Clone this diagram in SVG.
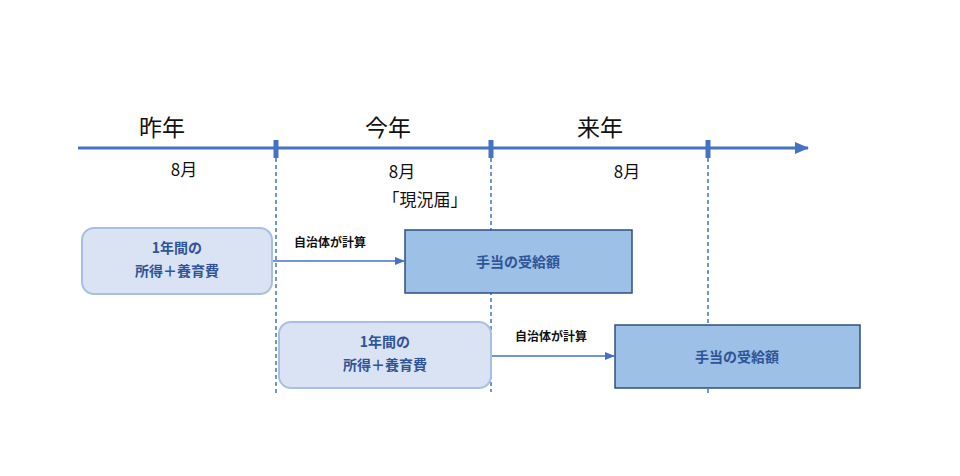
<svg xmlns="http://www.w3.org/2000/svg" width="960" height="476" viewBox="0 0 960 476">
<style>
.yr{font-family:"Noto Sans CJK JP","Noto Sans",sans-serif;font-size:23px;fill:#111;text-anchor:middle}
.mo{font-family:"Noto Sans CJK JP","Noto Sans",sans-serif;font-size:17px;fill:#111;text-anchor:middle}
.bt{font-family:"Noto Sans CJK JP","Noto Sans",sans-serif;font-size:14px;font-weight:bold;fill:#2f5597;text-anchor:middle}
.lb{font-family:"Noto Sans CJK JP","Noto Sans",sans-serif;font-size:12px;font-weight:bold;fill:#111;text-anchor:middle}
.dash{stroke:#4472c4;stroke-width:1.5;stroke-dasharray:4 3;fill:none}
.tick{stroke:#4472c4;stroke-width:5}
.soft{fill:#dae3f3;stroke:#a9bfe2;stroke-width:2}
.hard{fill:#9dc0e6;stroke:#2f4f7f;stroke-width:1.5}
.conn{stroke:#4472c4;stroke-width:1.5;fill:none}
</style>
<defs>
<marker id="ah" markerWidth="10" markerHeight="8" refX="9" refY="4" orient="auto" markerUnits="userSpaceOnUse">
<path d="M0,0 L10,4 L0,8 Z" fill="#4472c4"/>
</marker>
<marker id="bigah" markerWidth="14" markerHeight="12" refX="13" refY="6" orient="auto" markerUnits="userSpaceOnUse">
<path d="M0,0 L14,6 L0,12 Z" fill="#4472c4"/>
</marker>
</defs>
<g id="timeline">
<line x1="78" y1="148" x2="808" y2="148" stroke="#4472c4" stroke-width="3" marker-end="url(#bigah)"/>
<line class="tick" x1="276" y1="140" x2="276" y2="158"/>
<line class="tick" x1="491" y1="140" x2="491" y2="158"/>
<line class="tick" x1="708" y1="140" x2="708" y2="158"/>
<line class="dash" x1="276" y1="158" x2="276" y2="396"/>
<line class="dash" x1="491" y1="158" x2="491" y2="392"/>
<line class="dash" x1="708" y1="158" x2="708" y2="396"/>
<text class="yr" x="162" y="136">昨年</text>
<text class="yr" x="388" y="136">今年</text>
<text class="yr" x="600" y="136">来年</text>
<text class="mo" x="184" y="176">8月</text>
<text class="mo" x="402" y="178">8月</text>
<text class="mo" x="627" y="178">8月</text>
<text class="mo" x="425" y="206">「現況届」</text>
</g>
<g id="connectors">
<line class="conn" x1="273" y1="261" x2="404" y2="261" marker-end="url(#ah)"/>
<text class="lb" x="330" y="247">自治体が計算</text>
<line class="conn" x1="492" y1="356" x2="614" y2="356" marker-end="url(#ah)"/>
<text class="lb" x="551" y="341">自治体が計算</text>
</g>
<g id="income1">
<rect class="soft" x="82" y="228" width="190" height="66" rx="12"/>
<text class="bt" x="177" y="253">1年間の</text>
<text class="bt" x="177" y="276">所得＋養育費</text>
</g>
<g id="benefit1">
<rect class="hard" x="405" y="230" width="227" height="63"/>
<text class="bt" x="518" y="267">手当の受給額</text>
</g>
<g id="income2">
<rect class="soft" x="279" y="322" width="212" height="66" rx="12"/>
<text class="bt" x="385" y="347">1年間の</text>
<text class="bt" x="385" y="370">所得＋養育費</text>
</g>
<g id="benefit2">
<rect class="hard" x="615" y="325" width="245" height="63"/>
<text class="bt" x="737" y="362">手当の受給額</text>
</g>
</svg>
